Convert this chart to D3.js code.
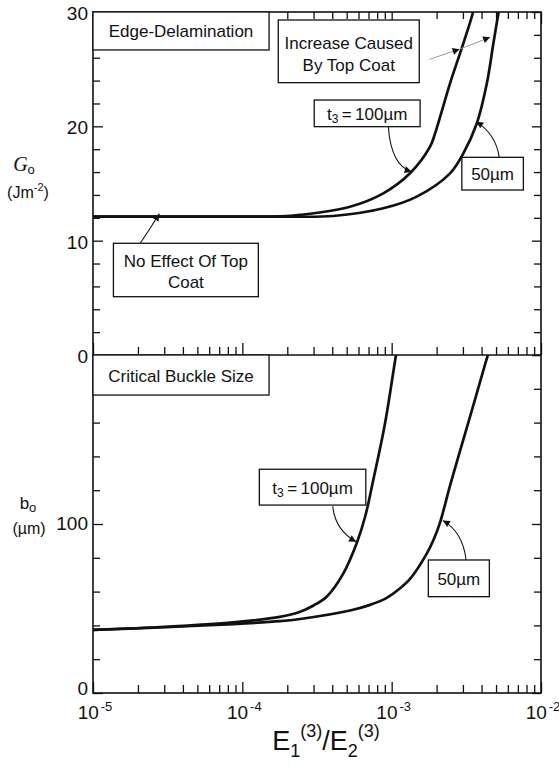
<!DOCTYPE html>
<html>
<head>
<meta charset="utf-8">
<script src="https://cdn.jsdelivr.net/npm/d3@7"></script>
<style>
  html, body { margin: 0; padding: 0; background: #fff; }
  svg { display: block; }
</style>
</head>
<body>
<svg id="chart" width="559" height="769"></svg>
<script>
// ---------------- DATA ----------------
const xDecades = [1e-5, 1e-4, 1e-3, 1e-2];
const xDecadeExponents = ["-5", "-4", "-3", "-2"];
const gTickValues = [0, 10, 20, 30];
const bTickValues = [0, 100];

// Top panel: energy release rate G_o (J m^-2) vs E1(3)/E2(3)
const g100X = [1e-5, 1e-4, 1.8e-4, 2.44e-4, 5.26e-4, 8.79e-4, 1.327e-3, 1.807e-3, 1.954e-3, 2.46e-3, 3.02e-3, 3.49e-3, 3.6e-3];
const g100Y = [12.1, 12.1, 12.12, 12.25, 12.97, 14.14, 15.89, 18.22, 19.39, 23.76, 27.26, 29.89, 30.8];
const g50X  = [1e-5, 1e-4, 1.88e-4, 4.07e-4, 8.79e-4, 1.472e-3, 2.46e-3, 3.02e-3, 3.72e-3, 4.34e-3, 4.80e-3, 5.19e-3, 5.4e-3];
const g50Y  = [12.1, 12.1, 12.1, 12.16, 12.83, 13.85, 15.89, 17.64, 20.27, 23.76, 27.26, 29.89, 31.0];

// Bottom panel: critical buckle size b_o (um) vs E1(3)/E2(3)
const b100X = [1e-5, 3.11e-5, 8.7e-5, 1.78e-4, 2.44e-4, 3.0e-4, 3.67e-4, 4.75e-4, 5.83e-4, 6.64e-4, 7.53e-4, 9.03e-4, 1.069e-3, 1.1e-3];
const b100Y = [37.3, 39.2, 41.8, 45.0, 48.1, 51.8, 57.0, 70.8, 88.6, 104.3, 126.0, 159.6, 200, 206];
const b50X  = [1e-5, 3.11e-5, 8.7e-5, 1.78e-4, 2.44e-4, 5.26e-4, 7.08e-4, 9.27e-4, 1.122e-3, 1.327e-3, 1.718e-3, 1.905e-3, 2.11e-3, 2.455e-3, 2.87e-3, 3.715e-3, 4.375e-3, 4.6e-3];
const b50Y  = [37.3, 39.0, 40.8, 42.5, 43.8, 48.8, 52.0, 56.3, 61.5, 67.5, 82.5, 90.5, 101, 122.4, 143.2, 177.3, 199, 205];

// ---------------- SETUP ----------------
const FONT = "'Liberation Sans', Arial, Helvetica, sans-serif";
const svg = d3.select("#chart");
const X0 = 93, X1 = 541, TOP = 12, MID = 355, BOT = 693;

const x = d3.scaleLog().domain([1e-5, 1e-2]).range([X0, X1]);
const yG = d3.scaleLinear().domain([0, 30]).range([MID, TOP]);
const yB = d3.scaleLinear().domain([0, 200]).range([BOT, MID]);

const defs = svg.append("defs");
defs.append("clipPath").attr("id", "clipTop").append("rect")
  .attr("x", X0).attr("y", TOP).attr("width", X1 - X0).attr("height", MID - TOP);
defs.append("clipPath").attr("id", "clipBot").append("rect")
  .attr("x", X0).attr("y", MID).attr("width", X1 - X0).attr("height", BOT - MID);
defs.append("marker").attr("id", "arrow")
  .attr("viewBox", "0 0 10 10").attr("refX", 10).attr("refY", 5)
  .attr("markerUnits", "userSpaceOnUse")
  .attr("markerWidth", 10).attr("markerHeight", 7)
  .attr("orient", "auto")
  .append("path").attr("d", "M0,0 L10,5 L0,10 z").attr("fill", "#111");

// ---------------- AXES / TICKS ----------------
const minorX = x.ticks().filter(v => !xDecades.some(d => Math.abs(d - v) / d < 1e-9));
const gMinor = d3.range(0, 31, 2).filter(v => v % 10 !== 0);
const bMinor = d3.range(0, 201, 20).filter(v => v % 100 !== 0);

function styleAxis(g) {
  g.select(".domain").remove();
  g.selectAll(".tick line").attr("stroke", "#111").attr("stroke-width", 1.3);
  g.selectAll("text").remove();
}

// x-ticks: top of upper panel (pointing down)
svg.append("g").attr("transform", `translate(0,${TOP})`)
  .call(d3.axisTop(x).tickValues(xDecades).tickSize(-12)).call(styleAxis);
svg.append("g").attr("transform", `translate(0,${TOP})`)
  .call(d3.axisTop(x).tickValues(minorX).tickSize(-7)).call(styleAxis);
// x-ticks: bottom of upper panel (pointing up)
svg.append("g").attr("transform", `translate(0,${MID})`)
  .call(d3.axisBottom(x).tickValues(xDecades).tickSize(-12)).call(styleAxis);
svg.append("g").attr("transform", `translate(0,${MID})`)
  .call(d3.axisBottom(x).tickValues(minorX).tickSize(-8)).call(styleAxis);
// x-ticks: bottom of lower panel (pointing up)
svg.append("g").attr("transform", `translate(0,${BOT})`)
  .call(d3.axisBottom(x).tickValues(xDecades).tickSize(-11)).call(styleAxis);
svg.append("g").attr("transform", `translate(0,${BOT})`)
  .call(d3.axisBottom(x).tickValues(minorX).tickSize(-8)).call(styleAxis);

// y-ticks, left (inward) and right (inward)
function yTicks(scale, major, minor) {
  svg.append("g").attr("transform", `translate(${X0},0)`)
    .call(d3.axisLeft(scale).tickValues(major).tickSize(-10)).call(styleAxis);
  svg.append("g").attr("transform", `translate(${X0},0)`)
    .call(d3.axisLeft(scale).tickValues(minor).tickSize(-7)).call(styleAxis);
  svg.append("g").attr("transform", `translate(${X1},0)`)
    .call(d3.axisRight(scale).tickValues(major).tickSize(-9)).call(styleAxis);
  svg.append("g").attr("transform", `translate(${X1},0)`)
    .call(d3.axisRight(scale).tickValues(minor).tickSize(-7)).call(styleAxis);
}
yTicks(yG, gTickValues, gMinor);
yTicks(yB, bTickValues.concat([200]), bMinor);

// y tick labels
const tickFont = 19;
gTickValues.forEach(v => {
  svg.append("text").attr("x", X0 - 5).attr("y", yG(v) + 1).attr("dy", "0.36em")
    .attr("text-anchor", "end").attr("font-family", FONT).attr("font-size", tickFont)
    .attr("fill", "#111").text(v);
});
bTickValues.forEach(v => {
  svg.append("text").attr("x", X0 - 5).attr("y", v === 0 ? yB(v) - 5 : yB(v) - 1).attr("dy", "0.36em")
    .attr("text-anchor", "end").attr("font-family", FONT).attr("font-size", tickFont)
    .attr("fill", "#111").text(v);
});

// x tick labels: 10^n
xDecades.forEach((v, i) => {
  const t = svg.append("text").attr("x", x(v) + 2).attr("y", 719)
    .attr("text-anchor", "middle").attr("font-family", FONT).attr("fill", "#111");
  t.append("tspan").attr("font-size", 19).text("10");
  t.append("tspan").attr("font-size", 13).attr("dx", 2).attr("dy", -8).text(xDecadeExponents[i]);
});

// Frame
svg.append("rect").attr("x", X0).attr("y", TOP).attr("width", X1 - X0).attr("height", BOT - TOP)
  .attr("fill", "none").attr("stroke", "#111").attr("stroke-width", 1.6);
svg.append("line").attr("x1", X0).attr("x2", X1).attr("y1", MID).attr("y2", MID)
  .attr("stroke", "#111").attr("stroke-width", 1.6);

// ---------------- CURVES ----------------
function curve(xs, ys, yScale, clip) {
  const pts = xs.map((v, i) => [v, ys[i]]);
  svg.append("path").datum(pts)
    .attr("clip-path", `url(#${clip})`)
    .attr("fill", "none").attr("stroke", "#111").attr("stroke-width", 2.7)
    .attr("stroke-linejoin", "round")
    .attr("d", d3.line().x(d => x(d[0])).y(d => yScale(d[1])).curve(d3.curveCatmullRom.alpha(0.5)));
}
curve(g100X, g100Y, yG, "clipTop");
curve(g50X, g50Y, yG, "clipTop");
curve(b100X, b100Y, yB, "clipBot");
curve(b50X, b50Y, yB, "clipBot");

// ---------------- ANNOTATIONS ----------------
function box(yScale, xa, xb, ya, yb, lines, offsets, fs) {
  const rx = x(xa), rw = x(xb) - x(xa), ry = yScale(ya), rh = yScale(yb) - yScale(ya);
  svg.append("rect").attr("x", rx).attr("y", ry).attr("width", rw).attr("height", rh)
    .attr("fill", "#fff").attr("stroke", "#111").attr("stroke-width", 1.3);
  const cx = rx + rw / 2, cy = ry + rh / 2;
  lines.forEach((ln, i) => {
    const t = svg.append("text").attr("x", cx).attr("y", cy + offsets[i])
      .attr("dominant-baseline", "central").attr("text-anchor", "middle")
      .attr("font-family", FONT).attr("font-size", fs || 17).attr("fill", "#111");
    if (typeof ln === "string") t.text(ln);
    else ln(t);
  });
}
function t3label(t) {
  t.append("tspan").text("t");
  t.append("tspan").attr("font-size", 12).attr("dy", 5).text("3");
  t.append("tspan").attr("dy", -5).text("\u2009=\u2009100\u00B5m");
}
function arrowCurve(yScale, p0, c, p1, color) {
  const a = [x(p0[0]), yScale(p0[1])], cc = [x(c[0]), yScale(c[1])], b = [x(p1[0]), yScale(p1[1])];
  svg.append("path").attr("d", `M${a[0]},${a[1]} Q${cc[0]},${cc[1]} ${b[0]},${b[1]}`)
    .attr("fill", "none").attr("stroke", color || "#111").attr("stroke-width", 1.1)
    .attr("marker-end", "url(#arrow)");
}
function arrowLine(yScale, p0, p1, color) {
  svg.append("line").attr("x1", x(p0[0])).attr("y1", yScale(p0[1]))
    .attr("x2", x(p1[0])).attr("y2", yScale(p1[1]))
    .attr("stroke", color || "#111").attr("stroke-width", 1)
    .attr("marker-end", "url(#arrow)");
}

// Top panel annotations
box(yG, 1e-5, 1.51e-4, 30, 26.68, ["Edge-Delamination"], [1]);
box(yG, 1.74e-4, 1.53e-3, 29.3, 23.82, ["Increase Caused", "By Top Coat"], [-8, 14]);
arrowLine(yG, [1.79e-3, 25.86], [2.85e-3, 26.75], "#999");
arrowLine(yG, [2.85e-3, 26.75], [4.56e-3, 27.79], "#999");
box(yG, 3.03e-4, 1.55e-3, 22.3, 19.97, [t3label], [1]);
arrowCurve(yG, [9.5e-4, 19.97], [9.9e-4, 16.6], [1.36e-3, 16.03]);
box(yG, 2.95e-3, 7.62e-3, 17.29, 14.43, ["50\u00B5m"], [1]);
arrowCurve(yG, [5.25e-3, 17.29], [5.0e-3, 19.3], [3.68e-3, 20.41]);
box(yG, 1.37e-5, 1.28e-4, 9.77, 5.1, ["No Effect Of Top", "Coat"], [-8, 13]);
arrowCurve(yG, [2.07e-5, 9.77], [2.4e-5, 11.0], [2.78e-5, 12.35]);

// Bottom panel annotations
box(yB, 1e-5, 1.51e-4, 200, 176.3, ["Critical Buckle Size"], [1]);
box(yB, 1.30e-4, 6.71e-4, 132.4, 111.2, [t3label], [1]);
arrowCurve(yB, [4.03e-4, 110.5], [4.18e-4, 96.4], [5.78e-4, 89.5]);
box(yB, 1.76e-3, 4.51e-3, 78.7, 57.0, ["50\u00B5m"], [1]);
arrowCurve(yB, [3.15e-3, 78.7], [3.0e-3, 95.3], [2.2e-3, 102]);

// ---------------- AXIS TITLES ----------------
// G_o (J m^-2)
const gl = svg.append("text").attr("x", 24).attr("y", 171).attr("text-anchor", "middle")
  .attr("font-family", FONT).attr("fill", "#111");
gl.append("tspan").attr("font-family", "'Liberation Serif', 'DejaVu Serif', serif")
  .attr("font-style", "italic").attr("font-size", 20).text("G");
gl.append("tspan").attr("font-size", 13).attr("dy", 3).text("o");
const gu = svg.append("text").attr("x", 28).attr("y", 198).attr("text-anchor", "middle")
  .attr("font-family", FONT).attr("font-size", 16).attr("fill", "#111");
gu.append("tspan").text("(Jm");
gu.append("tspan").attr("font-size", 11).attr("dy", -7).text("-2");
gu.append("tspan").attr("dy", 7).text(")");

// b_o (um)
const bl = svg.append("text").attr("x", 28).attr("y", 509).attr("text-anchor", "middle")
  .attr("font-family", FONT).attr("fill", "#111");
bl.append("tspan").attr("font-size", 17).text("b");
bl.append("tspan").attr("font-size", 13).attr("dy", 3).text("o");
svg.append("text").attr("x", 29).attr("y", 534).attr("text-anchor", "middle")
  .attr("font-family", FONT).attr("font-size", 16).attr("fill", "#111").text("(\u00B5m)");

// x title: E1(3)/E2(3)
const xt = svg.append("text").attr("x", 326).attr("y", 750).attr("text-anchor", "middle")
  .attr("font-family", FONT).attr("fill", "#111");
xt.append("tspan").attr("font-size", 27).text("E");
xt.append("tspan").attr("font-size", 18).attr("dy", 7).text("1");
xt.append("tspan").attr("font-size", 18).attr("dy", -20).text("(3)");
xt.append("tspan").attr("font-size", 27).attr("dy", 13).text("/");
xt.append("tspan").attr("font-size", 27).text("E");
xt.append("tspan").attr("font-size", 18).attr("dy", 7).text("2");
xt.append("tspan").attr("font-size", 18).attr("dy", -20).text("(3)");
</script>
</body>
</html>
